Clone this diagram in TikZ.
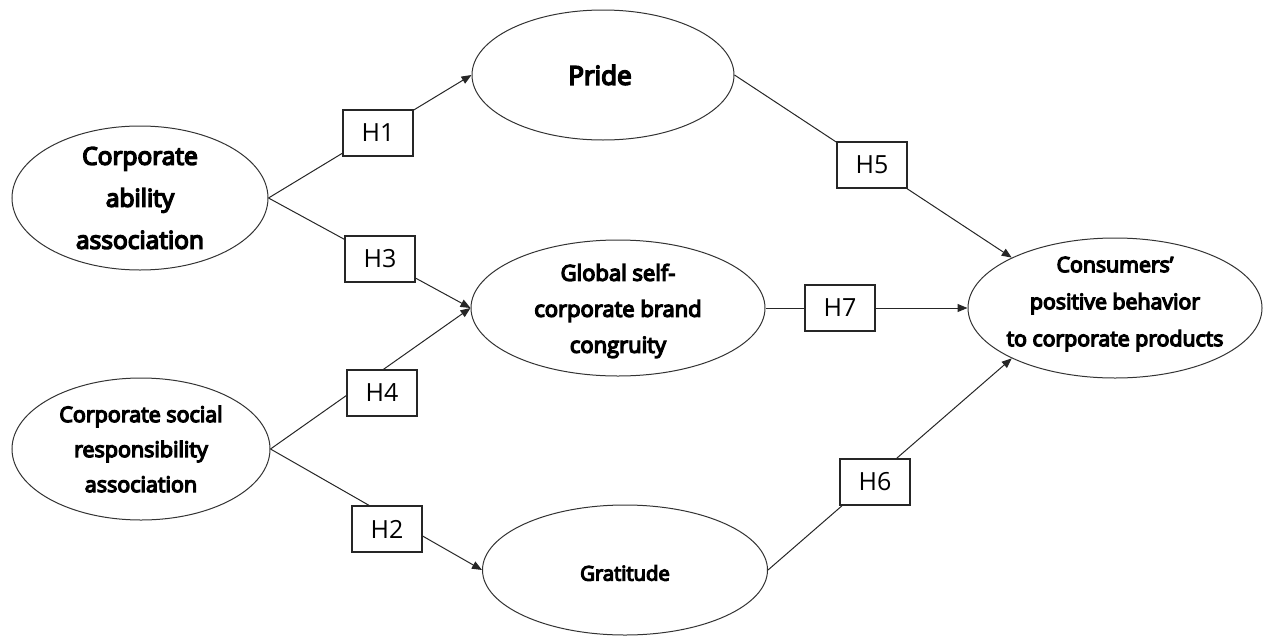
\documentclass[tikz,border=0pt]{standalone}
\usepackage{fontspec}
\setmainfont{Open Sans}
\newfontfamily\lblfont{Open Sans}[FakeBold=6]
\usetikzlibrary{shapes.geometric,arrows.meta}
\begin{document}
\begin{tikzpicture}[x=1pt,y=-1pt,
  construct/.style={draw=black!80,ellipse,line width=1pt,inner sep=0pt},
  lbl/.style={align=center,inner sep=0pt},
  hyp/.style={draw=black!85,fill=white,line width=1.3pt,minimum width=70pt,minimum height=46pt,inner sep=0pt,font=\fontsize{25}{29}\selectfont},
  conn/.style={line width=1pt,draw=black!85},
  arr/.style={conn,-{Triangle[length=10pt,width=8pt]}}]
\useasboundingbox (0,0) rectangle (1265,637);
% constructs
\node[construct,minimum width=256pt,minimum height=144pt] (ca) at (140,198) {};
\node[construct,minimum width=258pt,minimum height=142pt] (csr) at (141,449) {};
\node[construct,minimum width=262pt,minimum height=130pt] (pride) at (603,75) {};
\node[construct,minimum width=294pt,minimum height=136pt] (glob) at (618,308) {};
\node[construct,minimum width=294pt,minimum height=140pt] (cons) at (1115,308) {};
\node[construct,minimum width=285pt,minimum height=130pt] (grat) at (625,570) {};
% texts
\node[lbl,font=\lblfont\fontsize{24.5}{42}\selectfont] (caT) at (ca) {Corporate\\ability\\association};
\node[lbl,font=\lblfont\fontsize{21.5}{35}\selectfont] (csrT) at (csr) {Corporate social\\responsibility\\association};
\node[lbl,font=\lblfont\fontsize{26}{30}\selectfont] (prideT) at ([xshift=-3pt]pride.center) {Pride};
\node[lbl,font=\lblfont\fontsize{22}{36}\selectfont] (globT) at ([yshift=-3pt]glob.center) {Global self-\\corporate brand\\congruity};
\node[lbl,font=\lblfont\fontsize{21.3}{37}\selectfont] (consT) at ([yshift=4pt]cons.center) {Consumers’\\positive behavior\\to corporate products};
\node[lbl,font=\lblfont\fontsize{20.3}{24}\selectfont] (gratT) at ([yshift=-3pt]grat.center) {Gratitude};
% connectors
\draw[arr] (ca.east) -- (pride.west);
\draw[arr] (ca.east) -- (glob.west);
\draw[arr] (csr.east) -- (glob.west);
\draw[arr] (csr.east) -- (grat.west);
\draw[arr] (pride.east) -- (cons.154);
\draw[arr] (glob.east) -- (cons.west);
\draw[arr] (grat.east) -- (cons.206);
% hypothesis boxes
\node[hyp] (h1) at (378,133) {H1};
\node[hyp] (h3) at (380,259) {H3};
\node[hyp] (h4) at (382,393) {H4};
\node[hyp] (h2) at (387,529) {H2};
\node[hyp] (h5) at (872,165) {H5};
\node[hyp] (h7) at (840,308) {H7};
\node[hyp] (h6) at (875,482) {H6};
\end{tikzpicture}
\end{document}
